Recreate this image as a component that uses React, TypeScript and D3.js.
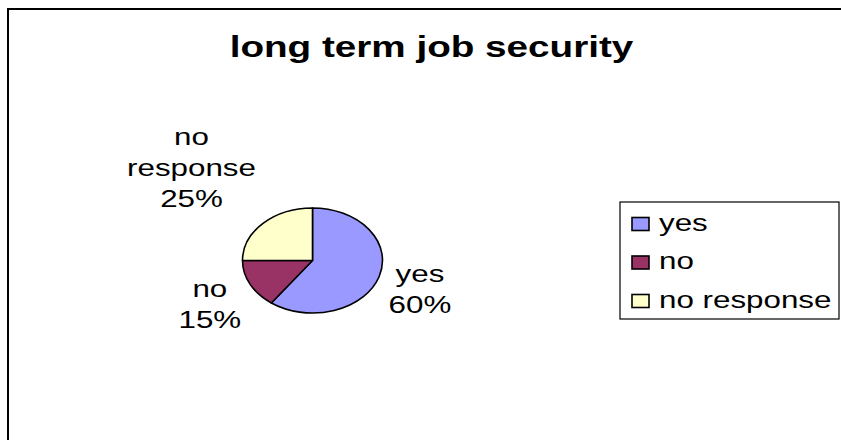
import React from 'react';
import * as d3 from 'd3';

const title = 'long term job security';
const categories = ['yes', 'no', 'no response'];
const values = [60, 15, 25];
const colors = ['#9999FF', '#993366', '#FFFFCC'];

const W = 841;
const H = 440;
const SX = 4 / 3; // horizontal stretch of the original picture
const FONT = '"Liberation Sans", Arial, Helvetica, sans-serif';

function textWidth(s: string, size: number, weight = 'normal'): number {
  if (typeof document === 'undefined') return s.length * size * 0.55;
  const c = document.createElement('canvas').getContext('2d');
  if (!c) return s.length * size * 0.55;
  c.font = `${weight} ${size}px "Liberation Sans", Arial, sans-serif`;
  return c.measureText(s).width;
}

export default function App() {
  const cx = 312.5;
  const cy = 260.5;
  const r = 52.5;
  const fs = 23.5;
  const lh = 31;
  const total = d3.sum(values);
  const fmt = d3.format('.0%');

  const arcs = d3.pie<number>().sort(null).value((d) => d)(values);
  const arc = d3.arc<d3.PieArcDatum<number>>().innerRadius(0).outerRadius(r);
  const r0 = 60;
  const labelArc = d3.arc<d3.PieArcDatum<number>>().innerRadius(r0).outerRadius(r0);
  const clamp = (v: number) => Math.max(-1, Math.min(1, v));

  const labels = arcs.map((a, i) => {
    const lines = [...categories[i].split(' '), fmt(values[i] / total)];
    const wmax = d3.max(lines, (l) => textWidth(l, fs)) as number;
    const hw = (wmax * SX) / 2;
    const hh = (lines.length * lh) / 2;
    const [px, py] = labelArc.centroid(a);
    const dx = clamp((px / r0) * Math.SQRT2);
    const dy = clamp((py / r0) * Math.SQRT2);
    const lx = cx + px * SX + dx * hw;
    const ly = cy + py + dy * hh;
    return { lines, lx, top: ly - hh };
  });

  const legendX = 620;
  const legendY = 202;
  const legendW = 219;
  const legendH = 117;
  const rowStep = 38.5;
  const rowY0 = 224;

  return (
    <svg
      width={W}
      height={H}
      style={{ position: 'absolute', left: 0, top: 0, display: 'block', background: '#fff' }}
      fontFamily={FONT}
    >
      <rect x={0} y={0} width={W} height={H} fill="#fff" />
      <path d={`M8,${H} V9 H${W}`} fill="none" stroke="#000" strokeWidth={2} />

      <text
        transform={`translate(431.5,57) scale(${SX},1)`}
        textAnchor="middle"
        fontSize={29}
        fontWeight="bold"
        fill="#000"
      >
        {title}
      </text>

      <g transform={`translate(${cx},${cy}) scale(${SX},1)`}>
        {arcs.map((a, i) => (
          <path
            key={categories[i]}
            d={arc(a) as string}
            fill={colors[i]}
            stroke="#000"
            strokeWidth={1.6}
            strokeLinejoin="round"
            vectorEffect="non-scaling-stroke"
          />
        ))}
      </g>

      {labels.map((lab, i) => (
        <g key={`lab-${i}`}>
          {lab.lines.map((line, j) => (
            <text
              key={j}
              transform={`translate(${lab.lx},${lab.top + j * lh + fs * 0.85}) scale(${SX},1)`}
              textAnchor="middle"
              fontSize={fs}
              fill="#000"
            >
              {line}
            </text>
          ))}
        </g>
      ))}

      <rect x={legendX} y={legendY} width={legendW} height={legendH} fill="#fff" stroke="#000" strokeWidth={1.2} />
      {categories.map((c, i) => {
        const yc = rowY0 + i * rowStep;
        return (
          <g key={`leg-${c}`}>
            <rect x={632} y={yc - 6.5} width={17} height={13} fill={colors[i]} stroke="#000" strokeWidth={1.6} />
            <text transform={`translate(659,${yc + 6.5}) scale(${SX},1)`} fontSize={fs} fill="#000">
              {c}
            </text>
          </g>
        );
      })}
    </svg>
  );
}
